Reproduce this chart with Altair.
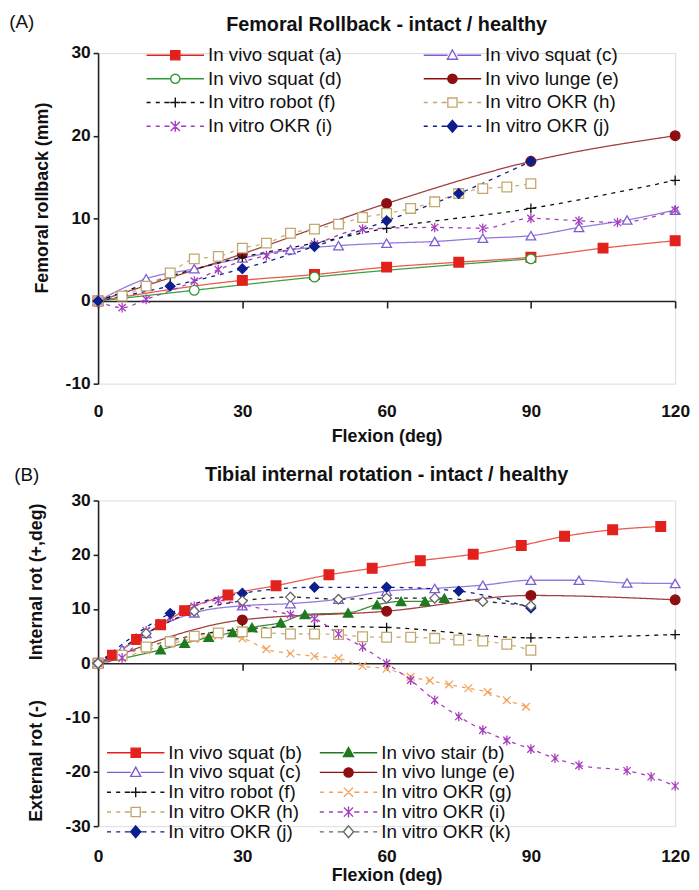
import altair as alt
import pandas as pd

FONT = "Liberation Sans"

# ---------------- Panel A : femoral rollback (mm) vs flexion (deg) ----------------
# legend order is column-major (first column top to bottom, then second column)
A_ORDER = ["In vivo squat (a)", "In vivo squat (d)", "In vitro robot (f)", "In vitro OKR (i)",
           "In vivo squat (c)", "In vivo lunge (e)", "In vitro OKR (h)", "In vitro OKR (j)"]
A_sq_a_x = [0, 30, 45, 60, 75, 90, 105, 120]
A_sq_a_y = [0, 2.5, 3.2, 4.1, 4.7, 5.3, 6.4, 7.3]
A_sq_c_x = [0, 10, 20, 30, 40, 50, 60, 70, 80, 90, 100, 110, 120]
A_sq_c_y = [0, 2.7, 3.9, 5.2, 6.2, 6.7, 7.0, 7.2, 7.6, 7.9, 8.9, 9.8, 11.0]
A_sq_d_x = [0, 20, 45, 90]
A_sq_d_y = [0, 1.3, 2.9, 5.1]
A_lunge_e_x = [0, 30, 60, 90, 120]
A_lunge_e_y = [0, 5.7, 11.8, 16.9, 20.0]
A_robot_f_x = [0, 15, 30, 45, 60, 90, 120]
A_robot_f_y = [0, 3.0, 5.3, 7.0, 8.8, 11.2, 14.6]
A_okr_h_x = [0, 5, 10, 15, 20, 25, 30, 35, 40, 45, 50, 55, 60, 65, 70, 75, 80, 85, 90]
A_okr_h_y = [0, 0.6, 1.8, 3.4, 5.1, 5.4, 6.4, 7.0, 8.2, 8.7, 9.3, 10.1, 10.6, 11.2, 12.0, 13.0, 13.6, 13.8, 14.2]
A_okr_i_x = [0, 5, 10, 20, 25, 35, 45, 55, 70, 80, 90, 100, 108, 120]
A_okr_i_y = [0, -0.8, 0.2, 2.4, 3.8, 5.5, 6.9, 8.7, 8.9, 8.8, 10.0, 9.7, 9.5, 11.0]
A_okr_j_x = [0, 15, 30, 45, 60, 75, 90]
A_okr_j_y = [0, 1.8, 3.9, 6.6, 9.7, 13.0, 16.9]

# ---------------- Panel B : tibial rotation (deg) vs flexion (deg) ----------------
B_ORDER = ["In vivo squat (b)", "In vivo squat (c)", "In vitro robot (f)", "In vitro OKR (h)",
           "In vitro OKR (j)", "In vivo stair (b)", "In vivo lunge (e)", "In vitro OKR (g)",
           "In vitro OKR (i)", "In vitro OKR (k)"]
B_sq_b_x = [0, 3, 8, 13, 18, 27, 37, 48, 57, 67, 78, 88, 97, 107, 117]
B_sq_b_y = [0, 1.5, 4.4, 7.1, 9.7, 12.6, 14.3, 16.3, 17.5, 18.9, 20.1, 21.7, 23.4, 24.6, 25.2]
B_stair_b_x = [0, 13, 18, 23, 28, 32, 38, 43, 52, 58, 63, 68, 72]
B_stair_b_y = [0, 2.5, 3.7, 4.8, 5.7, 6.6, 7.5, 9.0, 9.3, 10.8, 11.4, 11.4, 12.0]
B_sq_c_x = [0, 5, 10, 20, 30, 40, 50, 60, 70, 80, 90, 100, 110, 120]
B_sq_c_y = [0, 2.5, 5.5, 9.3, 10.6, 11.0, 11.8, 13.3, 13.8, 14.4, 15.3, 15.3, 14.8, 14.7]
B_lunge_e_x = [0, 30, 60, 90, 120]
B_lunge_e_y = [0, 8.0, 9.6, 12.5, 11.7]
B_robot_f_x = [0, 15, 30, 45, 60, 90, 120]
B_robot_f_y = [0, 4.2, 6.3, 6.8, 6.6, 4.7, 5.3]
B_okr_g_x = [0, 5, 10, 15, 20, 25, 30, 35, 40, 45, 50, 55, 60, 65, 69, 73, 77, 81, 85, 89]
B_okr_g_y = [0, 1.0, 2.4, 3.6, 4.5, 5.1, 4.6, 2.6, 1.8, 1.3, 0.9, -0.5, -1.0, -2.5, -3.2, -3.9, -4.6, -5.3, -6.8, -8.0]
B_okr_h_x = [0, 5, 10, 15, 20, 25, 30, 35, 40, 45, 50, 55, 60, 65, 70, 75, 80, 85, 90]
B_okr_h_y = [0, 1.5, 3.0, 4.0, 5.0, 5.6, 5.8, 5.6, 5.4, 5.4, 5.3, 4.9, 4.8, 4.8, 4.6, 4.3, 4.1, 3.5, 2.4]
B_okr_i_x = [0, 5, 10, 15, 20, 25, 30, 40, 45, 50, 55, 60, 65, 70, 75, 80, 85, 90, 95, 100, 110, 115, 120]
B_okr_i_y = [0, 1.0, 6.0, 8.5, 10.5, 11.6, 10.8, 9.0, 8.2, 5.4, 3.0, 0.0, -3.1, -6.8, -9.8, -12.3, -14.2,
             -15.8, -17.5, -18.8, -19.8, -20.9, -22.6]
B_okr_j_x = [0, 15, 30, 45, 60, 75, 90]
B_okr_j_y = [0, 9.2, 12.9, 14.0, 14.0, 13.3, 10.2]
B_okr_k_x = [0, 10, 20, 30, 40, 50, 60, 70, 80, 90]
B_okr_k_y = [0, 5.5, 9.6, 11.5, 12.2, 11.8, 12.0, 12.0, 11.4, 10.6]

X_TICKS = [0, 30, 60, 90, 120]

# ---------------- styles: marker colour, line colour, marker, filled, dashed ----------------
STYLE = {
    "In vivo squat (a)": ("#e3211c", "#ea5a4f", "square", True, False),
    "In vivo squat (b)": ("#e3211c", "#ea5a4f", "square", True, False),
    "In vivo squat (c)": ("#7f5bd6", "#9479dc", "tri", False, False),
    "In vivo squat (d)": ("#2f9a36", "#3fa044", "circle", False, False),
    "In vivo stair (b)": ("#1f7a1f", "#3a8a3a", "tri", True, False),
    "In vivo lunge (e)": ("#8e0f12", "#a0403f", "circle", True, False),
    "In vitro robot (f)": ("#111111", "#111111", "plus", True, True),
    "In vitro OKR (g)": ("#f2a25c", "#f2a25c", "x", True, True),
    "In vitro OKR (h)": ("#c2a86e", "#c8b27a", "square", False, True),
    "In vitro OKR (i)": ("#a63dbf", "#a63dbf", "star", True, True),
    "In vitro OKR (j)": ("#0c1f8c", "#0c1f8c", "diamond", True, True),
    "In vitro OKR (k)": ("#666666", "#222222", "diamond", False, True),
}
LINE_W = {"In vitro robot (f)": 2.4}

PLOT_SHAPES = {
    "square": "square",
    "circle": "circle",
    "tri": "triangle-up",
    "diamond": "diamond",
    "plus": "M-1,0H1M0,-1V1",
    "x": "M-0.8,-0.8L0.8,0.8M-0.8,0.8L0.8,-0.8",
    "star": "M-0.75,-0.75L0.75,0.75M-0.75,0.75L0.75,-0.75M0,-1V1",
}

S = 0.16
HYPHEN = "replace(datum.label, '\u2212', '-')"


def marker_path(kind):
    s = S
    if kind == "square":
        return f"M{-s},{-s}H{s}V{s}H{-s}Z"
    if kind == "circle":
        return f"M{s},0A{s},{s} 0 1,1 {-s},0A{s},{s} 0 1,1 {s},0Z"
    if kind == "tri":
        return f"M0,{-s*1.15}L{s*1.1},{s*0.85}L{-s*1.1},{s*0.85}Z"
    if kind == "diamond":
        return f"M0,{-s*1.3}L{s*1.1},0L0,{s*1.3}L{-s*1.1},0Z"
    if kind == "plus":
        return f"M{-s*1.1},0H{s*1.1}M0,{-s*1.1}V{s*1.1}"
    if kind == "x":
        return f"M{-s},{-s}L{s},{s}M{-s},{s}L{s},{-s}"
    return f"M{-s},{-s}L{s},{s}M{-s},{s}L{s},{-s}M0,{-s*1.2}V{s*1.2}"


def legend_path(kind, dashed):
    if dashed:
        line = "M-1,0H-0.86M-0.68,0H-0.54M-0.38,0H-0.2M0.2,0H0.38M0.54,0H0.68M0.86,0H1"
    else:
        line = "M-1,0H-0.17M0.17,0H1"
    return line + marker_path(kind)


def long_df(pairs):
    rows = []
    for name, xs, ys in pairs:
        for xv, yv in zip(xs, ys):
            rows.append({"series": name, "flex": xv, "val": yv})
    return pd.DataFrame(rows)


def panel(df, order, ydom, yvals, height, title, tag, tag_xy, ytitle, leg):
    width = 583
    zero_frac = (0 - ydom[0]) / (ydom[1] - ydom[0])
    xaxis = alt.Axis(values=X_TICKS, title="Flexion (deg)", offset=-height * zero_frac,
                     labelPadding=leg["labelpad"], tickSize=7, labelFlush=False, grid=False,
                     domainColor="#222", domainWidth=1.6, tickColor="#222", tickWidth=1.6,
                     labelFont=FONT, labelFontSize=17.5, labelFontWeight="bold", labelColor="#111",
                     titleFont=FONT, titleFontSize=18, titleFontWeight="bold", titleColor="#111",
                     titlePadding=leg["titlepad"])
    ykw = dict(values=yvals, title=ytitle, tickSize=5, grid=False, labelPadding=3,
               labelExpr=HYPHEN,
               domainColor="#222", domainWidth=1.6, tickColor="#222", tickWidth=1.6,
               labelFont=FONT, labelFontSize=17.5, labelFontWeight="bold", labelColor="#111",
               titleFont=FONT, titleFontSize=18, titleFontWeight="bold", titleColor="#111",
               titlePadding=14)
    if "ytitle_y" in leg:
        ykw["titleY"] = leg["ytitle_y"]
    yaxis = alt.Axis(**ykw)
    X = alt.X("flex:Q", scale=alt.Scale(domain=[0, 120], nice=False), axis=xaxis)
    Y = alt.Y("val:Q", scale=alt.Scale(domain=ydom, nice=False), axis=yaxis)

    mcol = [STYLE[n][0] for n in order]
    lcol = [STYLE[n][1] for n in order]
    pshape = [PLOT_SHAPES[STYLE[n][2]] for n in order]
    pfill = [STYLE[n][0] if STYLE[n][3] else "white" for n in order]
    dash = [[4, 5] if STYLE[n][4] else [1, 0] for n in order]
    lw = [LINE_W.get(n, 1.9 if STYLE[n][4] else 1.3) for n in order]
    lshape = [legend_path(STYLE[n][2], STYLE[n][4]) for n in order]

    base = alt.Chart(df)
    lines = base.mark_line(interpolate="monotone").encode(
        x=X, y=Y,
        stroke=alt.Stroke("series:N", scale=alt.Scale(domain=order, range=lcol), legend=None),
        strokeDash=alt.StrokeDash("series:N", scale=alt.Scale(domain=order, range=dash), legend=None),
        strokeWidth=alt.StrokeWidth("series:N", scale=alt.Scale(domain=order, range=lw), legend=None),
    )
    points = base.mark_point(size=95, opacity=1, strokeWidth=1.3, filled=False).encode(
        x=X, y=Y,
        shape=alt.Shape("series:N", scale=alt.Scale(domain=order, range=pshape), legend=None),
        stroke=alt.Stroke("series:N", scale=alt.Scale(domain=order, range=mcol), legend=None),
        fill=alt.Fill("series:N", scale=alt.Scale(domain=order, range=pfill), legend=None),
    )
    L = alt.Legend(title=None, orient="none", legendX=leg["x"], legendY=leg["y"], columns=2,
                   columnPadding=leg["colpad"], clipHeight=leg["rowh"], rowPadding=0,
                   symbolSize=58 * 58, symbolStrokeWidth=1.4, symbolOpacity=1, labelOffset=3,
                   labelFont=FONT, labelFontSize=leg["fs"], labelColor="#111", padding=0,
                   labelLimit=400)
    legdf = pd.DataFrame({"series": order, "flex": [None] * len(order), "val": [None] * len(order)})
    legend_layer = alt.Chart(legdf).mark_point(opacity=1, filled=False).encode(
        x=X, y=Y,
        shape=alt.Shape("series:N", scale=alt.Scale(domain=order, range=lshape), legend=L),
        stroke=alt.Stroke("series:N", scale=alt.Scale(domain=order, range=mcol), legend=L),
        fill=alt.Fill("series:N", scale=alt.Scale(domain=order, range=pfill), legend=L),
    )
    tagl = alt.Chart(pd.DataFrame({"t": [tag]})).mark_text(
        font=FONT, fontSize=19, align="center", baseline="middle", color="#111"
    ).encode(text="t:N", x=alt.value(tag_xy[0]), y=alt.value(tag_xy[1]))
    layers = [lines, points, legend_layer, tagl]
    for txt, ypx in leg.get("ytexts", []):
        layers.append(alt.Chart(pd.DataFrame({"t": [txt]})).mark_text(
            font=FONT, fontSize=18, fontWeight="bold", angle=270, align="center",
            baseline="middle", color="#111"
        ).encode(text="t:N", x=alt.value(-62), y=alt.value(ypx)))
    ch = alt.layer(*layers).properties(
        width=width, height=height,
        title=alt.TitleParams(title, font=FONT, fontSize=20, fontWeight="bold", color="#111",
                              anchor="middle", frame="group", offset=leg["toff"]),
    ).resolve_scale(stroke="independent", fill="independent", shape="independent",
                    strokeDash="independent", strokeWidth="independent")
    return ch


dfA = long_df([
    ("In vivo squat (a)", A_sq_a_x, A_sq_a_y),
    ("In vivo squat (c)", A_sq_c_x, A_sq_c_y),
    ("In vivo squat (d)", A_sq_d_x, A_sq_d_y),
    ("In vivo lunge (e)", A_lunge_e_x, A_lunge_e_y),
    ("In vitro robot (f)", A_robot_f_x, A_robot_f_y),
    ("In vitro OKR (h)", A_okr_h_x, A_okr_h_y),
    ("In vitro OKR (i)", A_okr_i_x, A_okr_i_y),
    ("In vitro OKR (j)", A_okr_j_x, A_okr_j_y),
])
dfB = long_df([
    ("In vivo squat (b)", B_sq_b_x, B_sq_b_y),
    ("In vivo stair (b)", B_stair_b_x, B_stair_b_y),
    ("In vivo squat (c)", B_sq_c_x, B_sq_c_y),
    ("In vivo lunge (e)", B_lunge_e_x, B_lunge_e_y),
    ("In vitro robot (f)", B_robot_f_x, B_robot_f_y),
    ("In vitro OKR (g)", B_okr_g_x, B_okr_g_y),
    ("In vitro OKR (h)", B_okr_h_x, B_okr_h_y),
    ("In vitro OKR (i)", B_okr_i_x, B_okr_i_y),
    ("In vitro OKR (j)", B_okr_j_x, B_okr_j_y),
    ("In vitro OKR (k)", B_okr_k_x, B_okr_k_y),
])

HA = 334
HB = 329
top = panel(dfA, A_ORDER, [-10, 30], [-10, 0, 10, 20, 30], HA,
            "Femoral Rollback - intact / healthy", "(A)", (-77, -31), "Femoral rollback (mm)",
            {"x": 48, "y": -9.75, "colpad": 81, "rowh": 23.5, "fs": 19, "labelpad": 96,
             "titlepad": 7, "toff": -21.5, "ytitle_y": 146})
bottom = panel(dfB, B_ORDER, [-30, 30], [-30, -20, -10, 0, 10, 20, 30], HB,
               "Tibial internal rotation - intact / healthy", "(B)", (-72, -26), None,
               {"x": 8, "y": 246, "colpad": 16, "rowh": 17.5, "fs": 19, "labelpad": 179,
                "titlepad": 5, "toff": -19,
                "ytexts": [("Internal rot (+,deg)", HB * 0.25), ("External rot (-)", HB * 0.8)]})

chart = alt.vconcat(top, bottom, spacing=118, bounds="flush").resolve_scale(
    x="independent", y="independent", stroke="independent", fill="independent",
    shape="independent", strokeDash="independent", strokeWidth="independent"
).properties(
    padding={"left": 0, "top": 0, "right": 0, "bottom": 0}
).configure_view(stroke=None).configure(background="white")

chart.save("out.html", embed_options={"renderer": "svg", "actions": False})
